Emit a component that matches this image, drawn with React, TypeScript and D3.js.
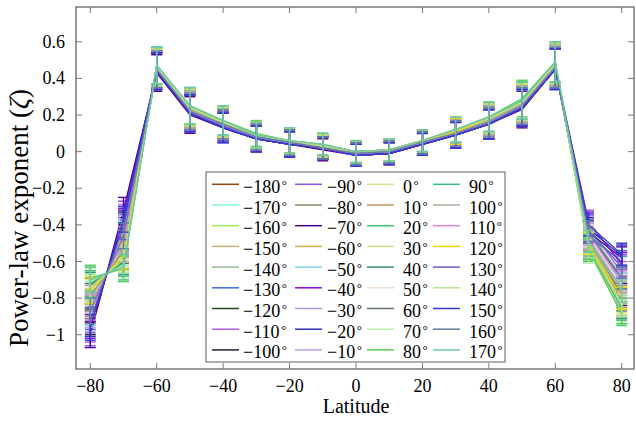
import React from "react";
import * as d3 from "d3";

const latitudes = [-80, -70, -60, -50, -40, -30, -20, -10, 0, 10, 20, 30, 40, 50, 60, 70, 80];
const longitudes = [-180, -170, -160, -150, -140, -130, -120, -110, -100, -90, -80, -70, -60, -50, -40, -30, -20, -10, 0, 10, 20, 30, 40, 50, 60, 70, 80, 90, 100, 110, 120, 130, 140, 150, 160, 170];
const seriesColors = [
  "#8B4513", "#7FFFD4", "#9EF05A", "#C2B280", "#8FBC8F", "#4169E1", "#204A20", "#B05AF0", "#2A1A3A",
  "#9055E8", "#8F8A6A", "#500090", "#D4B04C", "#7CD0EA", "#8E10D8", "#A0A0E0", "#3030B0", "#B8A0E0",
  "#D8E090", "#C89870", "#40C070", "#D0E080", "#30907A", "#F0DCD0", "#607070", "#C0F0A8", "#58D058",
  "#3CC080", "#B0B0A0", "#E080E8", "#F5D800", "#6858C8", "#B8E090", "#3535D8", "#5F80A0", "#70C8A8",
];
const zetaErr = [0.07, 0.07, 0.1, 0.1, 0.08, 0.07, 0.07, 0.06, 0.06, 0.06, 0.06, 0.07, 0.08, 0.1, 0.11, 0.06, 0.06];
const zeta: number[][] = [
  [-0.86, -0.47, 0.45, 0.22, 0.15, 0.08, 0.05, 0.03, -0.01, 0.0, 0.05, 0.10, 0.17, 0.26, 0.47, -0.44, -0.70],
  [-0.78, -0.55, 0.46, 0.23, 0.14, 0.08, 0.05, 0.03, -0.01, 0.0, 0.06, 0.11, 0.17, 0.27, 0.48, -0.40, -0.64],
  [-0.74, -0.58, 0.46, 0.24, 0.15, 0.09, 0.06, 0.03, 0.0, 0.01, 0.05, 0.11, 0.18, 0.27, 0.47, -0.47, -0.76],
  [-0.80, -0.53, 0.45, 0.23, 0.16, 0.08, 0.05, 0.02, -0.01, 0.0, 0.05, 0.10, 0.16, 0.26, 0.46, -0.50, -0.80],
  [-0.72, -0.61, 0.47, 0.24, 0.16, 0.09, 0.06, 0.03, 0.0, 0.0, 0.06, 0.12, 0.18, 0.28, 0.48, -0.43, -0.68],
  [-0.90, -0.43, 0.44, 0.21, 0.13, 0.07, 0.04, 0.02, -0.02, -0.01, 0.04, 0.10, 0.16, 0.24, 0.46, -0.46, -0.60],
  [-0.76, -0.57, 0.45, 0.23, 0.15, 0.08, 0.05, 0.03, -0.01, 0.0, 0.05, 0.11, 0.17, 0.26, 0.47, -0.52, -0.84],
  [-0.97, -0.36, 0.44, 0.21, 0.14, 0.07, 0.04, 0.02, -0.02, -0.01, 0.04, 0.09, 0.15, 0.24, 0.45, -0.41, -0.66],
  [-0.93, -0.40, 0.44, 0.22, 0.14, 0.08, 0.05, 0.02, -0.01, 0.0, 0.05, 0.10, 0.16, 0.25, 0.46, -0.48, -0.78],
  [-0.99, -0.34, 0.43, 0.21, 0.13, 0.07, 0.04, 0.02, -0.02, -0.01, 0.04, 0.09, 0.15, 0.24, 0.45, -0.38, -0.62],
  [-0.84, -0.49, 0.45, 0.22, 0.15, 0.08, 0.05, 0.03, -0.01, 0.0, 0.05, 0.10, 0.17, 0.26, 0.47, -0.49, -0.74],
  [-1.00, -0.32, 0.43, 0.20, 0.13, 0.07, 0.04, 0.01, -0.02, -0.01, 0.04, 0.09, 0.15, 0.23, 0.45, -0.44, -0.58],
  [-0.82, -0.51, 0.46, 0.23, 0.16, 0.09, 0.06, 0.03, 0.0, 0.01, 0.06, 0.12, 0.18, 0.27, 0.48, -0.53, -0.86],
  [-0.88, -0.45, 0.45, 0.22, 0.14, 0.08, 0.05, 0.03, -0.01, 0.0, 0.05, 0.10, 0.16, 0.25, 0.46, -0.45, -0.72],
  [-0.95, -0.38, 0.44, 0.21, 0.14, 0.07, 0.04, 0.02, -0.02, -0.01, 0.04, 0.09, 0.15, 0.24, 0.45, -0.39, -0.61],
  [-0.91, -0.42, 0.44, 0.22, 0.14, 0.08, 0.05, 0.02, -0.01, 0.0, 0.05, 0.10, 0.16, 0.25, 0.46, -0.47, -0.70],
  [-0.94, -0.39, 0.44, 0.21, 0.13, 0.07, 0.04, 0.02, -0.02, -0.01, 0.04, 0.09, 0.15, 0.24, 0.45, -0.42, -0.57],
  [-0.89, -0.44, 0.45, 0.22, 0.15, 0.08, 0.05, 0.03, -0.01, 0.0, 0.05, 0.10, 0.16, 0.25, 0.46, -0.46, -0.75],
  [-0.77, -0.56, 0.46, 0.24, 0.16, 0.09, 0.06, 0.03, 0.0, 0.01, 0.06, 0.11, 0.18, 0.27, 0.48, -0.51, -0.82],
  [-0.83, -0.50, 0.45, 0.23, 0.15, 0.08, 0.05, 0.03, -0.01, 0.0, 0.05, 0.11, 0.17, 0.26, 0.47, -0.48, -0.79],
  [-0.70, -0.63, 0.47, 0.25, 0.17, 0.09, 0.06, 0.04, 0.0, 0.01, 0.06, 0.12, 0.19, 0.28, 0.49, -0.54, -0.88],
  [-0.75, -0.58, 0.46, 0.24, 0.16, 0.09, 0.06, 0.03, 0.0, 0.01, 0.06, 0.11, 0.18, 0.27, 0.48, -0.50, -0.83],
  [-0.73, -0.60, 0.46, 0.24, 0.16, 0.09, 0.06, 0.03, 0.0, 0.01, 0.06, 0.12, 0.18, 0.28, 0.48, -0.52, -0.85],
  [-0.81, -0.52, 0.45, 0.23, 0.15, 0.08, 0.05, 0.03, -0.01, 0.0, 0.05, 0.11, 0.17, 0.26, 0.47, -0.46, -0.73],
  [-0.79, -0.54, 0.45, 0.23, 0.15, 0.08, 0.05, 0.03, -0.01, 0.0, 0.05, 0.11, 0.17, 0.26, 0.47, -0.49, -0.81],
  [-0.71, -0.62, 0.47, 0.25, 0.17, 0.09, 0.06, 0.04, 0.0, 0.01, 0.06, 0.12, 0.19, 0.28, 0.49, -0.55, -0.87],
  [-0.69, -0.64, 0.47, 0.25, 0.17, 0.10, 0.06, 0.04, 0.0, 0.01, 0.06, 0.12, 0.19, 0.29, 0.49, -0.53, -0.89],
  [-0.72, -0.61, 0.47, 0.24, 0.16, 0.09, 0.06, 0.03, 0.0, 0.01, 0.06, 0.12, 0.18, 0.28, 0.48, -0.51, -0.86],
  [-0.80, -0.53, 0.45, 0.23, 0.15, 0.08, 0.05, 0.03, -0.01, 0.0, 0.05, 0.11, 0.17, 0.26, 0.47, -0.47, -0.77],
  [-0.85, -0.48, 0.45, 0.22, 0.15, 0.08, 0.05, 0.02, -0.01, 0.0, 0.05, 0.10, 0.16, 0.25, 0.46, -0.45, -0.71],
  [-0.76, -0.57, 0.46, 0.24, 0.16, 0.09, 0.06, 0.03, 0.0, 0.01, 0.06, 0.11, 0.18, 0.27, 0.48, -0.50, -0.80],
  [-0.92, -0.41, 0.44, 0.21, 0.14, 0.07, 0.04, 0.02, -0.02, -0.01, 0.04, 0.09, 0.15, 0.24, 0.45, -0.43, -0.63],
  [-0.74, -0.59, 0.46, 0.24, 0.16, 0.09, 0.06, 0.03, 0.0, 0.01, 0.06, 0.12, 0.18, 0.27, 0.48, -0.52, -0.84],
  [-0.96, -0.37, 0.44, 0.21, 0.13, 0.07, 0.04, 0.02, -0.02, -0.01, 0.04, 0.09, 0.15, 0.24, 0.45, -0.40, -0.56],
  [-0.87, -0.46, 0.45, 0.22, 0.15, 0.08, 0.05, 0.02, -0.01, 0.0, 0.05, 0.10, 0.16, 0.25, 0.46, -0.44, -0.69],
  [-0.70, -0.63, 0.47, 0.25, 0.17, 0.09, 0.06, 0.04, 0.0, 0.01, 0.06, 0.12, 0.19, 0.28, 0.49, -0.49, -0.76],
];
const xTicks = [-80, -60, -40, -20, 0, 20, 40, 60, 80];
const yTicks = [-1, -0.8, -0.6, -0.4, -0.2, 0, 0.2, 0.4, 0.6];

const W = 636, H = 426;
const L = 76, R = 634, T = 7, B = 369;
const FONT = "Liberation Serif, DejaVu Serif, Times New Roman, serif";
const FRAME = "#7a7a7a";

const fmt = (v: number) => {
  const s = d3.format("")(Math.round(v * 10) / 10);
  return s.replace("-", "\u2212");
};

export default function App() {
  const x = d3.scaleLinear().domain([-84.3, 83.7]).range([L, R]);
  const y = d3.scaleLinear().domain([-1.187, 0.79]).range([B, T]);
  const line = d3
    .line<number>()
    .x((_, i) => x(latitudes[i]))
    .y((d) => y(d));
  const cap = 5.5;
  const tick = 6;

  const legX = 206, legY = 172, legW = 299, legH = 190;
  const colLineX = [212, 295, 367, 433];
  const colTextX = [243, 327, 403, 469];
  const rowY0 = 184.3, rowDY = 20.7;
  const txt = { fontFamily: FONT } as React.CSSProperties;

  return (
    <svg width={W} height={H} style={{ position: "absolute", left: 0, top: 0, background: "#fff" }}>
      <rect x={0} y={0} width={W} height={H} fill="#fff" />
      <defs>
        <clipPath id="plotclip">
          <rect x={L} y={T} width={R - L} height={B - T} />
        </clipPath>
      </defs>
      <g clipPath="url(#plotclip)">
        {zeta.map((vals, si) => (
          <g key={si} stroke={seriesColors[si]} fill="none">
            {vals.map((v, i) => {
              const cx = x(latitudes[i]);
              const y1 = y(v + zetaErr[i]);
              const y2 = y(v - zetaErr[i]);
              return (
                <g key={i} strokeWidth={1.4}>
                  <line x1={cx} x2={cx} y1={y1} y2={y2} />
                  <line x1={cx - cap} x2={cx + cap} y1={y1} y2={y1} />
                  <line x1={cx - cap} x2={cx + cap} y1={y2} y2={y2} />
                </g>
              );
            })}
            <path d={line(vals) || ""} strokeWidth={1.3} />
          </g>
        ))}
      </g>

      <rect x={L} y={T} width={R - L} height={B - T} fill="none" stroke={FRAME} strokeWidth={1.5} />
      {xTicks.map((t) => (
        <g key={"xt" + t} stroke={FRAME} strokeWidth={1}>
          <line x1={x(t)} x2={x(t)} y1={B} y2={B - tick} />
          <line x1={x(t)} x2={x(t)} y1={T} y2={T + tick} />
        </g>
      ))}
      {yTicks.map((t) => (
        <g key={"yt" + t} stroke={FRAME} strokeWidth={1}>
          <line x1={L} x2={L + tick} y1={y(t)} y2={y(t)} />
          <line x1={R} x2={R - tick} y1={y(t)} y2={y(t)} />
        </g>
      ))}
      {xTicks.map((t) => (
        <text key={"xl" + t} x={x(t)} y={392} textAnchor="middle" style={txt} fontSize={18} fill="#000">
          {fmt(t)}
        </text>
      ))}
      {yTicks.map((t) => (
        <text key={"yl" + t} x={65} y={y(t) + 6} textAnchor="end" style={txt} fontSize={18} fill="#000">
          {fmt(t)}
        </text>
      ))}
      <text x={(L + R) / 2 + 1} y={413} textAnchor="middle" style={txt} fontSize={20} fill="#000">
        Latitude
      </text>
      <text
        transform={`translate(28, 218) rotate(-90)`}
        textAnchor="middle"
        style={txt}
        fontSize={27}
        fill="#000"
      >
        Power-law exponent (<tspan fontStyle="italic">ζ</tspan>)
      </text>

      <rect x={legX} y={legY} width={legW} height={legH} fill="#fff" stroke={FRAME} strokeWidth={1.2} />
      {longitudes.map((lon, i) => {
        const col = Math.floor(i / 9);
        const row = i % 9;
        const ly = rowY0 + row * rowDY;
        return (
          <g key={"lg" + lon}>
            <line x1={colLineX[col]} x2={colLineX[col] + 27} y1={ly} y2={ly} stroke={seriesColors[i]} strokeWidth={1.5} />
            <text x={colTextX[col]} y={ly + 8.5} style={txt} fontSize={18} fill="#000">
              {fmt(lon)}
              <tspan fontSize={13} dx={1.5} dy={-4}>°</tspan>
            </text>
          </g>
        );
      })}
    </svg>
  );
}
